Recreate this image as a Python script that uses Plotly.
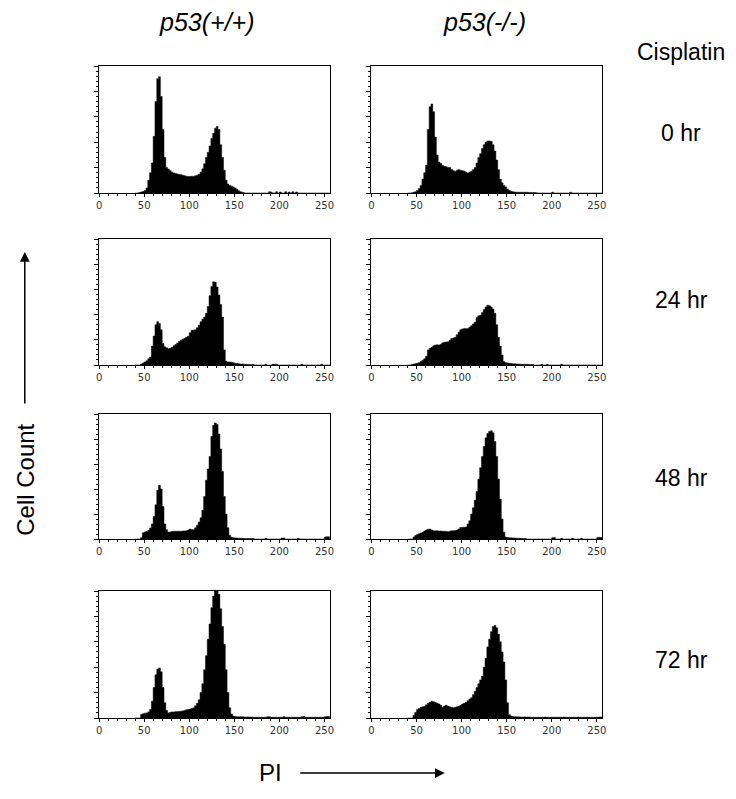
import plotly.graph_objects as go

# ---------------- data ----------------
# channel (PI) bins: left edges 40, 42, ..., 254 (width 2); range shown 0-256
bin_start = 40
bin_width = 2
x_ticks = [0, 50, 100, 150, 200, 250]
genotypes = ["p53(+/+)", "p53(-/-)"]
timepoints = ["0 hr", "24 hr", "48 hr", "72 hr"]

# counts for channels 40..170 (66 bins) and tail 172..254 (42 bins), arbitrary count units
wt_0_core = [0, 0, 2, 4, 6, 10, 20, 50, 80, 118,
             223, 360, 450, 458, 380, 250, 140, 100, 94, 88,
             82, 79, 77, 75, 73, 72, 70, 68, 66, 65,
             65, 66, 65, 68, 70, 74, 82, 95, 115, 140,
             160, 185, 215, 235, 255, 262, 250, 190, 140, 90,
             50, 35, 30, 27, 24, 20, 15, 9, 5, 3,
             1, 0, 0, 0, 0, 0]
wt_0_tail = [0, 0, 0, 0, 0, 0, 0, 0, 5, 4,
             0, 0, 5, 0, 4, 0, 0, 5, 0, 4,
             0, 5, 0, 4, 0, 0, 0, 0, 0, 0,
             0, 0, 0, 0, 0, 0, 0, 0, 0, 0,
             0, 0]

ko_0_core = [0, 0, 1, 3, 5, 10, 18, 30, 55, 80,
             110, 250, 340, 350, 320, 220, 150, 122, 116, 108,
             105, 103, 100, 100, 93, 88, 85, 90, 92, 90,
             88, 86, 82, 79, 82, 86, 92, 100, 118, 140,
             155, 175, 190, 200, 205, 205, 203, 190, 165, 130,
             92, 55, 40, 30, 24, 15, 10, 7, 5, 4,
             3, 3, 3, 3, 3, 3]
ko_0_tail = [3, 2, 2, 2, 2, 1, 0, 0, 0, 0,
             0, 0, 0, 0, 3, 0, 0, 0, 0, 0,
             0, 0, 0, 0, 3, 0, 0, 0, 0, 0,
             0, 0, 0, 0, 0, 0, 0, 0, 0, 0,
             0, 0]

wt_24_core = [0, 0, 0, 4, 8, 12, 17, 25, 32, 75,
              115, 160, 172, 165, 140, 85, 72, 68, 64, 66,
              70, 76, 81, 87, 93, 98, 102, 106, 110, 114,
              128, 138, 138, 140, 148, 158, 172, 182, 190, 205,
              232, 275, 312, 330, 328, 310, 278, 240, 190, 60,
              15, 12, 12, 11, 9, 7, 6, 5, 4, 4,
              3, 3, 2, 2, 2, 2]
wt_24_tail = [0, 0, 0, 0, 0, 0, 3, 0, 0, 0,
              3, 3, 3, 0, 0, 0, 0, 0, 0, 0,
              0, 0, 0, 0, 0, 0, 3, 0, 0, 0,
              0, 0, 0, 0, 0, 0, 0, 3, 0, 0,
              0, 0]

ko_24_core = [0, 0, 2, 4, 5, 7, 9, 14, 19, 25,
              35, 60, 66, 70, 76, 79, 80, 79, 82, 88,
              90, 91, 92, 98, 105, 107, 110, 120, 130, 140,
              143, 145, 144, 145, 150, 156, 163, 170, 188, 195,
              197, 208, 220, 230, 237, 235, 230, 222, 205, 160,
              110, 75, 40, 14, 9, 8, 7, 6, 5, 5,
              4, 4, 3, 3, 3, 3]
ko_24_tail = [3, 2, 2, 2, 0, 0, 0, 0, 3, 0,
              0, 3, 0, 0, 0, 0, 0, 0, 0, 3,
              0, 0, 0, 0, 0, 0, 0, 0, 0, 0,
              0, 0, 0, 0, 0, 0, 0, 0, 0, 0,
              0, 0]

wt_48_core = [0, 0, 0, 5, 25, 28, 30, 35, 44, 60,
              90, 137, 195, 215, 200, 130, 60, 37, 28, 28,
              30, 31, 31, 31, 31, 31, 32, 32, 33, 36,
              40, 38, 37, 45, 55, 68, 85, 115, 170, 235,
              280, 330, 410, 455, 464, 458, 420, 360, 270, 170,
              100, 45, 15, 7, 5, 4, 4, 3, 3, 3,
              2, 2, 2, 2, 2, 2]
wt_48_tail = [0, 0, 0, 0, 0, 0, 3, 0, 0, 0,
              0, 0, 0, 0, 0, 4, 4, 0, 0, 0,
              0, 0, 0, 0, 3, 0, 0, 0, 0, 0,
              0, 0, 0, 0, 0, 0, 0, 0, 0, 8,
              9, 9]

ko_48_core = [0, 0, 0, 8, 14, 18, 21, 24, 27, 32,
              36, 39, 40, 36, 33, 33, 33, 32, 32, 31,
              31, 30, 29, 31, 33, 33, 34, 36, 40, 46,
              47, 47, 48, 60, 73, 100, 125, 155, 190, 240,
              285, 330, 370, 405, 422, 430, 433, 425, 390, 330,
              240, 160, 80, 27, 8, 6, 5, 5, 4, 4,
              3, 3, 3, 2, 2, 2]
ko_48_tail = [0, 0, 0, 0, 0, 0, 0, 0, 0, 0,
              0, 0, 0, 0, 5, 6, 0, 0, 0, 3,
              0, 0, 0, 0, 0, 3, 0, 0, 0, 0,
              3, 0, 0, 0, 0, 0, 0, 0, 0, 6,
              7, 6]

wt_72_core = [0, 0, 0, 14, 17, 19, 20, 24, 33, 66,
              120, 170, 192, 197, 182, 120, 60, 30, 20, 22,
              24, 24, 25, 26, 26, 27, 28, 30, 32, 33,
              35, 37, 40, 48, 58, 72, 100, 135, 190, 245,
              310, 370, 434, 480, 500, 500, 487, 430, 360, 290,
              190, 100, 40, 16, 8, 6, 5, 5, 5, 5,
              4, 4, 4, 4, 4, 3]
wt_72_tail = [3, 3, 3, 3, 3, 3, 3, 5, 5, 3,
              3, 3, 3, 3, 3, 3, 5, 3, 3, 3,
              3, 3, 3, 3, 3, 3, 5, 6, 3, 3,
              3, 3, 3, 3, 3, 3, 3, 3, 3, 5,
              6, 6]

ko_72_core = [0, 0, 0, 10, 22, 33, 37, 42, 44, 46,
              52, 58, 62, 66, 64, 61, 58, 55, 50, 42,
              47, 50, 46, 44, 42, 40, 42, 44, 46, 50,
              55, 58, 62, 68, 75, 80, 92, 105, 120, 135,
              150, 165, 200, 235, 280, 310, 340, 360, 364, 355,
              330, 300, 260, 220, 150, 60, 13, 8, 6, 5,
              5, 5, 4, 4, 4, 4]
ko_72_tail = [4, 4, 3, 3, 3, 3, 3, 3, 3, 3,
              4, 3, 3, 3, 3, 3, 3, 3, 3, 3,
              4, 3, 3, 3, 3, 3, 3, 3, 4, 3,
              3, 3, 3, 3, 3, 3, 3, 3, 3, 3,
              4, 4]

panels = [
    (wt_0_core + wt_0_tail, ko_0_core + ko_0_tail),
    (wt_24_core + wt_24_tail, ko_24_core + ko_24_tail),
    (wt_48_core + wt_48_tail, ko_48_core + ko_48_tail),
    (wt_72_core + wt_72_tail, ko_72_core + ko_72_tail),
]

# ---------------- layout geometry (pixels) ----------------
W, H = 736, 799
col_px = [(97, 330), (372, 605)]
row_px = [(66, 193), (239, 365), (414, 539), (591, 718)]

def px_x(p):
    return p / W

def px_y(p):
    return 1 - p / H

fig = go.Figure()
FONT = "Liberation Sans, Arial, sans-serif"

idx = 0
for r, pair in enumerate(panels):
    for c, counts in enumerate(pair):
        idx += 1
        n = len(counts)
        edges = [bin_start + bin_width * i for i in range(n + 1)]
        yvals = list(counts) + [counts[-1]]
        xa = "x" if idx == 1 else f"x{idx}"
        ya = "y" if idx == 1 else f"y{idx}"
        fig.add_trace(go.Scatter(
            x=edges, y=yvals, mode="lines", line=dict(shape="hv", width=0.5, color="black"),
            fill="tozeroy", fillcolor="black", xaxis=xa, yaxis=ya,
            showlegend=False, hoverinfo="skip"))
        key = "" if idx == 1 else str(idx)
        x0, x1 = col_px[c]
        t, b = row_px[r]
        fig.layout[f"xaxis{key}"] = dict(
            domain=[px_x(x0), px_x(x1)], range=[0, 256], anchor=ya,
            tickvals=x_ticks, ticks="outside", ticklen=3, tickwidth=1, tickcolor="black",
            minor=dict(dtick=10, tick0=0, ticks="outside", ticklen=2, tickcolor="black"),
            showline=True, linecolor="black", linewidth=1, mirror=True,
            showgrid=False, zeroline=False,
            tickfont=dict(family="DejaVu Sans, Verdana, sans-serif", size=10, color="#333"),
            fixedrange=True)
        fig.layout[f"yaxis{key}"] = dict(
            domain=[px_y(b), px_y(t)], range=[0, 500], anchor=xa,
            dtick=100, tick0=0, ticks="outside", ticklen=4, tickwidth=1, tickcolor="black",
            minor=dict(dtick=20, ticks="outside", ticklen=2, tickcolor="black"),
            showticklabels=False,
            showline=True, linecolor="black", linewidth=1, mirror=True,
            showgrid=False, zeroline=False, fixedrange=True)

annots = []
def txt(s, xp, yp, size, angle=0):
    annots.append(dict(text=s, x=px_x(xp), y=px_y(yp), xref="paper", yref="paper",
                       showarrow=False, xanchor="center", yanchor="middle", textangle=angle,
                       font=dict(family=FONT, size=size, color="black")))

txt(f"<i>{genotypes[0]}</i>", 206, 22, 25)
txt(f"<i>{genotypes[1]}</i>", 486, 22, 25)
txt("Cisplatin", 685, 52, 23)
for lab, yy in zip(timepoints, [133, 300, 478, 660]):
    txt(lab, 685, yy, 23)
txt("Cell Count", 22, 480, 24, angle=-90)
txt("PI", 270, 772, 24)

# arrows
annots.append(dict(text="", x=px_x(22), y=px_y(252), xref="paper", yref="paper",
                   ax=0, ay=153, axref="pixel", ayref="pixel", showarrow=True,
                   arrowhead=2, arrowsize=1.3, arrowwidth=1.5, arrowcolor="black"))
annots.append(dict(text="", x=px_x(446), y=px_y(773), xref="paper", yref="paper",
                   ax=-146, ay=0, axref="pixel", ayref="pixel", showarrow=True,
                   arrowhead=2, arrowsize=1.3, arrowwidth=1.5, arrowcolor="black"))

fig.update_layout(
    width=W, height=H, margin=dict(l=0, r=0, t=0, b=0),
    paper_bgcolor="white", plot_bgcolor="white",
    annotations=annots, showlegend=False)

fig.write_html("out.html", config={"displayModeBar": False},
               post_script="document.body.style.margin='0';document.body.style.overflow='hidden';")
